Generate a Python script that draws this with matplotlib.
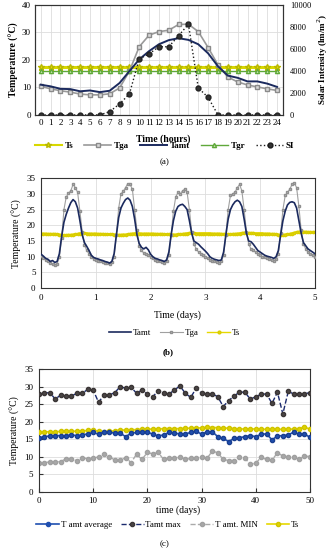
import matplotlib.pyplot as plt
import numpy as np

plt.rcParams['font.family'] = ['Liberation Serif', 'DejaVu Serif']

# ---- (a) one day, hourly ----
hours = list(range(25))
ts_a = [17.5] * 25
tgr_a = [16.0] * 25
tga_a = [10.4, 9.5, 8.8, 8.3, 7.6, 7.3, 7.3, 7.7, 9.8, 15.9, 24.8, 29.0, 30.3,
         30.8, 32.9, 33.0, 30.3, 24.5, 18.2, 13.8, 12.0, 10.9, 10.2, 9.5, 8.9]
tamt_a = [11.0, 10.4, 9.5, 9.4, 8.6, 8.9, 8.3, 8.8, 11.6, 15.9, 20.2, 23.2, 25.7,
          27.2, 27.9, 27.3, 25.7, 22.4, 17.7, 14.3, 13.5, 12.2, 12.2, 11.4, 10.2]
si_a = [0, 0, 0, 0, 0, 0, 0, 300, 1000, 1900, 5100, 5550, 6200, 6200, 7200,
        8250, 2450, 1600, 0, 0, 0, 0, 0, 0, 0]

# ---- (b) five days, hourly ----
tga_d = [
    [10.3, 9.6, 9.0, 8.5, 8.0, 7.6, 7.4, 7.8, 9.8, 16.0, 25.0, 29.0, 30.2, 31.0, 33.0, 32.0, 30.5, 24.5, 18.0, 13.8, 12.0, 11.0, 10.0, 9.3],
    [9.0, 8.7, 8.5, 8.3, 8.0, 7.9, 7.8, 8.2, 10.0, 17.0, 25.5, 30.0, 30.8, 32.0, 33.3, 33.0, 31.5, 25.0, 18.5, 13.5, 12.0, 11.2, 11.0, 10.5],
    [10.0, 9.5, 9.0, 8.7, 8.5, 8.2, 8.0, 8.5, 10.5, 17.0, 24.5, 29.0, 30.5, 30.0, 31.0, 31.5, 30.5, 25.0, 18.0, 14.0, 12.5, 11.5, 11.0, 10.5],
    [10.0, 9.5, 9.0, 8.8, 8.5, 8.3, 8.0, 8.5, 10.5, 17.0, 25.0, 29.5, 30.0, 30.5, 32.0, 33.0, 31.0, 25.0, 18.0, 14.0, 12.5, 12.0, 11.5, 11.0],
    [10.5, 10.0, 9.8, 9.5, 9.3, 9.0, 8.8, 9.2, 11.0, 17.5, 25.0, 29.5, 30.5, 31.5, 33.0, 33.5, 32.0, 26.0, 18.5, 14.0, 12.5, 11.5, 11.0, 10.5],
]
tamt_d = [
    [10.8, 10.2, 9.5, 9.2, 8.5, 8.8, 8.2, 8.5, 11.0, 16.5, 21.0, 23.5, 25.5, 27.2, 28.2, 27.5, 25.5, 21.5, 17.0, 14.5, 13.3, 12.0, 10.5, 9.8],
    [9.5, 9.3, 9.0, 8.8, 8.5, 8.3, 8.0, 8.5, 11.0, 17.0, 22.5, 25.5, 27.0, 28.2, 28.7, 28.0, 26.0, 22.0, 17.0, 14.2, 13.0, 12.5, 13.0, 12.2],
    [10.8, 10.0, 9.5, 9.3, 9.0, 8.8, 8.5, 9.0, 11.5, 17.0, 21.5, 24.5, 26.0, 26.5, 26.7, 26.0, 25.0, 21.5, 17.5, 15.0, 14.5, 14.0, 13.2, 12.5],
    [11.8, 11.0, 10.0, 9.5, 9.2, 9.0, 8.8, 9.0, 11.5, 17.0, 22.0, 25.0, 26.5, 27.5, 28.0, 27.5, 26.0, 22.0, 17.5, 15.0, 14.8, 14.0, 13.0, 12.0],
    [11.5, 11.0, 10.5, 10.2, 10.0, 9.8, 9.5, 10.0, 12.0, 17.0, 21.5, 24.5, 26.5, 27.3, 27.5, 27.2, 25.5, 21.5, 17.5, 14.5, 13.5, 12.5, 12.0, 11.5],
]
ts_d = [
    [17.3, 17.3, 17.3, 17.2, 17.2, 17.2, 17.2, 17.1, 17.0, 16.9, 16.8, 16.8, 16.9, 16.9, 17.0, 17.1, 17.2, 17.4, 17.5, 17.5, 17.4, 17.3, 17.3, 17.3],
    [17.3, 17.2, 17.2, 17.2, 17.1, 17.1, 17.1, 17.1, 17.0, 17.0, 16.9, 16.9, 17.0, 17.0, 17.1, 17.2, 17.3, 17.4, 17.4, 17.4, 17.3, 17.3, 17.3, 17.3],
    [17.3, 17.3, 17.2, 17.2, 17.2, 17.2, 17.1, 17.1, 17.1, 17.0, 17.0, 17.0, 17.1, 17.1, 17.2, 17.3, 17.4, 17.5, 17.5, 17.5, 17.4, 17.4, 17.4, 17.4],
    [17.4, 17.4, 17.4, 17.3, 17.3, 17.3, 17.3, 17.2, 17.2, 17.1, 17.1, 17.1, 17.2, 17.2, 17.3, 17.4, 17.5, 17.6, 17.6, 17.5, 17.5, 17.5, 17.4, 17.4],
    [17.4, 17.4, 17.3, 17.3, 17.3, 17.2, 17.2, 17.1, 17.0, 16.9, 16.9, 17.0, 17.1, 17.2, 17.4, 17.6, 17.8, 17.9, 17.9, 17.9, 17.9, 17.8, 17.8, 17.8],
]
tga_end, tamt_end, ts_end = 10.0, 11.0, 17.8

# ---- (c) fifty days ----
days_c = list(range(51))
tmax_c = [27.9, 28.1, 28.3, 26.4, 27.6, 27.3, 27.3, 28.1, 28.1, 29.2, 29.0, 25.5, 27.6,
          27.6, 28.3, 30.0, 29.5, 29.8, 28.1, 29.0, 27.9, 27.1, 28.8, 28.1, 27.9, 29.0,
          30.2, 28.1, 26.9, 29.5, 28.1, 27.9, 27.9, 27.1, 24.3, 26.0, 27.3, 28.4, 28.4,
          26.4, 27.1, 27.8, 27.9, 25.2, 28.4, 22.2, 28.6, 27.9, 27.8, 27.9, 28.3]
tmin_c = [8.1, 8.3, 8.5, 8.5, 8.6, 9.4, 9.4, 8.8, 9.7, 9.4, 9.5, 10.0, 10.7, 10.0, 9.0,
          9.0, 9.7, 8.3, 10.7, 9.2, 11.2, 10.8, 11.2, 9.2, 9.5, 9.5, 10.0, 9.2, 9.5, 9.7,
          9.8, 9.5, 11.6, 11.1, 9.2, 8.9, 8.9, 10.0, 9.5, 7.9, 8.1, 9.8, 9.2, 9.0, 11.1,
          10.2, 9.8, 10.0, 9.2, 10.2, 10.0]
tavg_c = [15.4, 15.7, 15.9, 16.0, 16.0, 16.0, 16.2, 16.0, 16.2, 16.5, 16.9, 16.4, 17.1,
          17.0, 16.7, 16.7, 15.7, 16.7, 16.9, 16.9, 17.0, 16.4, 15.9, 16.2, 16.9, 16.7,
          16.5, 16.5, 16.9, 17.3, 16.4, 17.1, 17.1, 15.7, 15.2, 14.3, 15.2, 15.4, 15.7,
          16.0, 15.7, 16.4, 16.5, 14.8, 15.9, 16.0, 16.2, 17.0, 16.4, 16.5, 15.5]
ts_c = [17.0, 17.1, 17.1, 17.1, 17.2, 17.2, 17.2, 17.3, 17.3, 17.5, 17.5, 17.3, 17.0,
        17.2, 17.4, 17.6, 17.6, 17.7, 17.7, 17.8, 17.8, 17.9, 17.9, 18.0, 18.0, 18.0,
        18.0, 18.1, 18.1, 18.2, 18.2, 18.4, 18.3, 18.3, 18.2, 18.1, 18.0, 17.9, 17.9,
        17.9, 17.9, 17.8, 17.8, 17.8, 17.8, 17.8, 17.8, 17.9, 18.0, 18.5, 17.8]

fig = plt.figure(figsize=(3.29, 5.5), dpi=100)
tick_fs = 6.5

# ===== panel (a) =====
ax = fig.add_axes([0.106, 0.791, 0.754, 0.2])
ax.plot(hours, ts_a, color='#d8d800', lw=2.2, marker='*', ms=4.5, mfc='#e8e000', mec='#b8b800', zorder=3)
ax.plot(hours, tga_a, color='#9a9a9a', lw=1.2, marker='s', ms=3, mfc='#d8d8d8', mec='#8a8a8a', zorder=3)
ax.plot(hours, tamt_a, color='#1b2a5e', lw=1.4, zorder=4)
ax.plot(hours, tgr_a, color='#5fa83a', lw=1.0, marker='^', ms=3, mfc='#c8e8b0', mec='#5fa83a', zorder=3)
ax.set_xlim(-0.6, 24.6)
ax.set_ylim(0, 40)
ax.set_yticks([0, 10, 20, 30, 40])
ax.set_xticks(hours)
ax.grid(True, color='#dddddd', lw=0.6)
ax.set_axisbelow(True)
ax.tick_params(labelsize=tick_fs, length=0, pad=3)
ax.set_ylabel('Temperature (°C)', fontsize=7, fontweight='bold', labelpad=2)
ax2 = ax.twinx()
ax2.plot(hours, si_a, color='#1a1a1a', lw=1.0, ls=':', marker='o', ms=3.5, mfc='#333333', mec='#222222', zorder=5)
ax2.set_ylim(0, 10000)
ax2.set_yticks(range(0, 10001, 2000))
ax2.tick_params(labelsize=6, length=0, pad=5)
ax2.set_ylabel('Solar Intensity (lm/m$^2$)', fontsize=6.5, fontweight='bold', labelpad=3)
for a in (ax, ax2):
    for s in a.spines.values():
        s.set_color('#333333')
        s.set_linewidth(0.8)
fig.text(0.495, 0.747, 'Time (hours)', ha='center', va='center', fontsize=7, fontweight='bold')
h = [plt.Line2D([], [], color='#d8d800', lw=1.5, marker='*', ms=4, mfc='#e8e000', mec='#b8b800'),
     plt.Line2D([], [], color='#9a9a9a', lw=1.2, marker='s', ms=3, mfc='#d8d8d8', mec='#8a8a8a'),
     plt.Line2D([], [], color='#1b2a5e', lw=1.4),
     plt.Line2D([], [], color='#5fa83a', lw=1.0, marker='^', ms=3, mfc='#c8e8b0', mec='#5fa83a'),
     plt.Line2D([], [], color='#1a1a1a', lw=1.0, ls=':', marker='o', ms=3.5, mfc='#333333')]
fig.legend(h, ['Ts', 'Tga', 'Tamt', 'Tgr', 'SI'], loc='center', bbox_to_anchor=(0.5, 0.734), ncol=5,
           frameon=False, handlelength=3, columnspacing=1.2, handletextpad=0.3,
           prop={'size': 6.5, 'weight': 'bold'})
fig.text(0.5, 0.706, '(a)', ha='center', va='center', fontsize=6.5)

# ===== panel (b) =====
tga_b = sum(tga_d, []) + [tga_end]
tamt_b = sum(tamt_d, []) + [tamt_end]
ts_b = sum(ts_d, []) + [ts_end]
t_b = np.arange(len(tga_b)) / 24.0
bx = fig.add_axes([0.125, 0.476, 0.832, 0.2])
bx.plot(t_b, ts_b, color='#e6d800', lw=2.0, marker='o', ms=1.6, mec='#d8cc00', mfc='#f0e000', zorder=2)
bx.plot(t_b, tga_b, color='#a0a0a0', lw=0.8, marker='s', ms=1.9, mfc='#d0d0d0', mec='#8f8f8f', zorder=3)
bx.plot(t_b, tamt_b, color='#1b2a5e', lw=1.2, zorder=4)
bx.set_xlim(0, 5)
bx.set_ylim(0, 35)
bx.set_yticks(range(0, 36, 5))
bx.set_xticks(range(6))
bx.grid(True, color='#dddddd', lw=0.6)
bx.set_axisbelow(True)
bx.tick_params(labelsize=tick_fs, length=0, pad=4)
bx.set_ylabel('Temperature (°C)', fontsize=7, labelpad=3)
for s in bx.spines.values():
    s.set_color('#333333')
    s.set_linewidth(0.8)
fig.text(0.54, 0.427, 'Time (days)', ha='center', va='center', fontsize=7)
h = [plt.Line2D([], [], color='#1b2a5e', lw=1.2),
     plt.Line2D([], [], color='#a0a0a0', lw=0.8, marker='s', ms=2, mfc='#d0d0d0', mec='#8f8f8f'),
     plt.Line2D([], [], color='#e6d800', lw=1.0, marker='o', ms=2, mfc='#e6d800', mec='#d8cc00')]
fig.legend(h, ['Tamt', 'Tga', 'Ts'], loc='center', bbox_to_anchor=(0.53, 0.395), ncol=3,
           frameon=False, handlelength=2.5, columnspacing=1.0, handletextpad=0.2,
           prop={'size': 6.5})
fig.text(0.51, 0.36, '(b)', ha='center', va='center', fontsize=6.5, fontweight='bold')

# ===== panel (c) =====
cx = fig.add_axes([0.1185, 0.106, 0.8235, 0.223])
cx.plot(days_c, tmin_c, color='#aaaaaa', lw=1.0, ls='--', marker='o', ms=3, mfc='#a8a8a8', mec='#a0a0a0', zorder=2)
cx.plot(days_c, tmax_c, color='#1b2a6e', lw=1.0, ls='--', marker='o', ms=3, mfc='#4a4545', mec='#3a3535', zorder=3)
cx.plot(days_c, ts_c, color='#e6d800', lw=1.2, marker='o', ms=3, mfc='#e0d400', mec='#d0c400', zorder=3)
cx.plot(days_c, tavg_c, color='#1f4fb0', lw=1.2, marker='o', ms=3, mfc='#1f4fb0', mec='#1a3f90', zorder=4)
cx.set_xlim(0, 50)
cx.set_ylim(0, 35)
cx.set_yticks(range(0, 36, 5))
cx.set_xticks(range(0, 51, 10))
cx.grid(True, color='#dddddd', lw=0.6)
cx.set_axisbelow(True)
cx.tick_params(labelsize=tick_fs, length=3, direction='in', pad=4, color='#333333')
cx.set_ylabel('Temperature (°C)', fontsize=7, labelpad=3)
for s in cx.spines.values():
    s.set_color('#333333')
    s.set_linewidth(0.8)
fig.text(0.54, 0.073, 'time (days)', ha='center', va='center', fontsize=7)
h = [plt.Line2D([], [], color='#1f4fb0', lw=1.2, marker='o', ms=3, mfc='#1f4fb0'),
     plt.Line2D([], [], color='#1b2a6e', lw=1.0, ls='--', marker='o', ms=3, mfc='#4a4545', mec='#3a3535'),
     plt.Line2D([], [], color='#aaaaaa', lw=1.0, ls='--', marker='o', ms=3, mfc='#a8a8a8', mec='#a0a0a0'),
     plt.Line2D([], [], color='#e6d800', lw=1.2, marker='o', ms=3, mfc='#e0d400', mec='#d0c400')]
fig.legend(h, ['T amt average', 'Tamt max', 'T amt. MIN', 'Ts'], loc='center', bbox_to_anchor=(0.51, 0.045),
           ncol=4, frameon=False, handlelength=2.5, columnspacing=1.0, handletextpad=0.2,
           prop={'size': 6.5})
fig.text(0.5, 0.011, '(c)', ha='center', va='center', fontsize=6.5)

fig.savefig('out.png', dpi=100)
